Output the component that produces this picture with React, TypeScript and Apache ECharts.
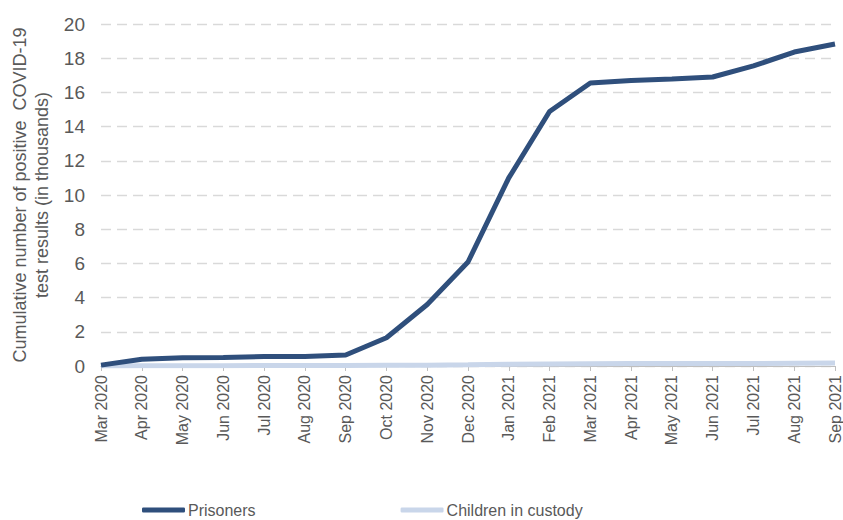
import React, { useEffect, useRef } from "react";
import * as echarts from "echarts";

const categories = [
  "Mar 2020", "Apr 2020", "May 2020", "Jun 2020", "Jul 2020", "Aug 2020", "Sep 2020",
  "Oct 2020", "Nov 2020", "Dec 2020", "Jan 2021", "Feb 2021", "Mar 2021", "Apr 2021",
  "May 2021", "Jun 2021", "Jul 2021", "Aug 2021", "Sep 2021",
];
const prisoners = [
  0.05, 0.4, 0.48, 0.5, 0.55, 0.56, 0.64, 1.65, 3.6, 6.08, 11.0, 14.88, 16.55, 16.7,
  16.78, 16.9, 17.55, 18.36, 18.83,
];
const children = [
  0.0, 0.01, 0.02, 0.02, 0.03, 0.03, 0.03, 0.04, 0.05, 0.07, 0.1, 0.12, 0.13, 0.14,
  0.14, 0.14, 0.15, 0.16, 0.17,
];
const yTicks = { min: 0, max: 20, interval: 2 };

export default function App() {
  const ref = useRef<HTMLDivElement>(null);
  useEffect(() => {
    document.body.style.margin = "0";
    if (!ref.current) return;
    const chart = echarts.init(ref.current, null, { renderer: "svg" });
    const font = "'Liberation Sans', Arial, sans-serif";
    chart.setOption({
      animation: false,
      textStyle: { fontFamily: font, color: "#595959" },
      grid: {
        left: 101,
        right: 8,
        top: 24,
        bottom: 154,
        containLabel: false,
        outerBoundsMode: "none",
      },
      legend: {
        left: 142,
        top: 502,
        padding: 0,
        icon: "roundRect",
        itemWidth: 43,
        itemHeight: 5,
        itemGap: 145,
        textStyle: { fontFamily: font, fontSize: 16, color: "#595959", padding: [0, 0, 0, -2] },
        data: ["Prisoners", "Children in custody"],
      },
      xAxis: {
        type: "category",
        data: categories,
        boundaryGap: false,
        axisLine: { lineStyle: { color: "#bfbfbf", width: 1 } },
        axisTick: { alignWithLabel: true, length: 5, lineStyle: { color: "#bfbfbf" } },
        axisLabel: {
          rotate: 90,
          interval: 0,
          margin: 9,
          fontSize: 16,
          color: "#595959",
          fontFamily: font,
        },
      },
      yAxis: {
        type: "value",
        min: yTicks.min,
        max: yTicks.max,
        interval: yTicks.interval,
        axisLine: { show: false },
        axisTick: { show: false },
        axisLabel: { fontSize: 19, color: "#595959", fontFamily: font, margin: 16 },
        splitLine: { lineStyle: { color: "#d9d9d9", type: [10, 6], width: 1.3 } },
        name: "Cumulative number of positive  COVID-19\ntest results (in thousands)",
        nameLocation: "middle",
        nameGap: 48,
        nameTextStyle: { fontSize: 18, color: "#595959", fontFamily: font, lineHeight: 22 },
      },
      series: [
        {
          name: "Children in custody",
          type: "line",
          data: children,
          symbol: "none",
          lineStyle: { color: "#c9d6ea", width: 5 },
          itemStyle: { color: "#c9d6ea" },
          z: 2,
        },
        {
          name: "Prisoners",
          type: "line",
          data: prisoners,
          symbol: "none",
          lineStyle: { color: "#2f4f7c", width: 5 },
          itemStyle: { color: "#2f4f7c" },
          z: 3,
        },
      ],
    });
    return () => chart.dispose();
  }, []);
  return <div ref={ref} style={{ width: 843, height: 520 }} />;
}
